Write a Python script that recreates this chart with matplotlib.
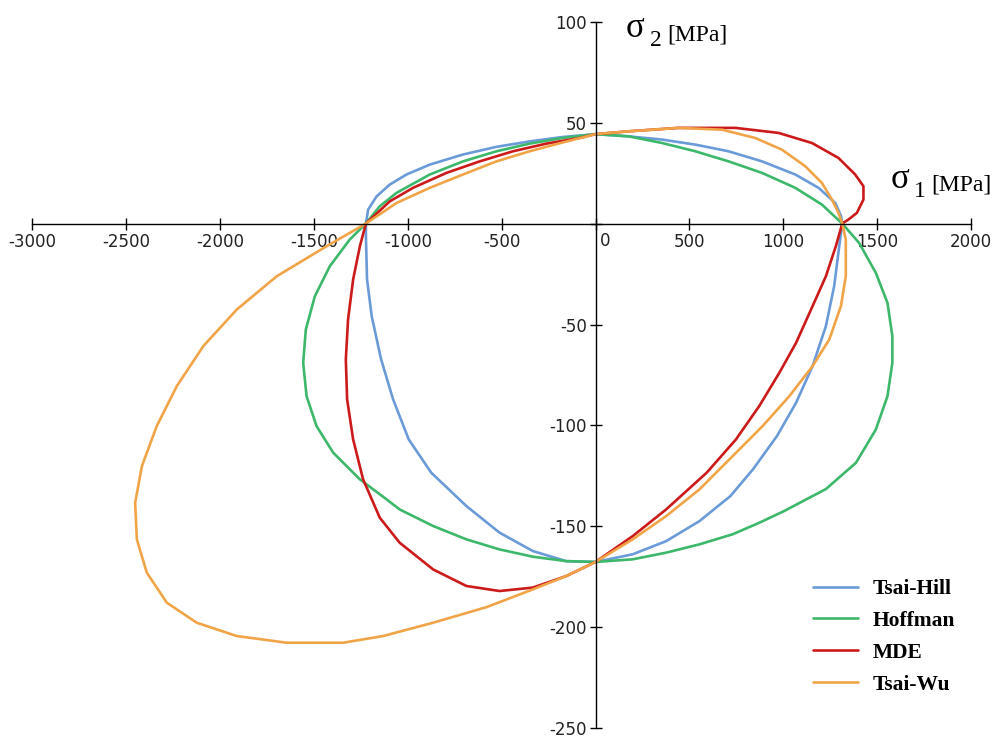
import matplotlib
matplotlib.use("Agg")
import matplotlib.pyplot as plt
from matplotlib.transforms import ScaledTranslation

plt.rcParams['axes.unicode_minus'] = False

# failure envelopes: (sigma1, sigma2) in MPa, going clockwise from the top
tsai_hill_s1 = [0, 177, 355, 532, 709, 887, 1064, 1188, 1277, 1308, 1314, 1298, 1271, 1227, 1156, 1068, 966,
                838, 718, 553, 376, 198, 0, -156, -334, -511, -688, -875, -995, -1078, -1142, -1192, -1217,
                -1223, -1223, -1211, -1166, -1096, -1007, -883, -706, -528, -351, -174, 0]
tsai_hill_s2 = [44.3, 43.2, 41.6, 39.1, 35.8, 30.8, 24.3, 17.7, 10.2, 3.6, 0, -11.2, -31.0, -50.8, -70.6,
                -88.8, -105.3, -121.8, -135.0, -147.4, -157.3, -163.8, -167.6, -167.2, -162.2, -153.1, -139.9,
                -123.4, -106.9, -87.1, -67.3, -45.9, -27.7, -6.3, 0, 6.9, 13.5, 19.3, 24.3, 29.2, 34.2, 38.0,
                40.7, 42.9, 44.3]

hoffman_s1 = [0, 177, 355, 532, 709, 887, 1064, 1206, 1314, 1404, 1493, 1555, 1581, 1581, 1555, 1493, 1387,
              1227, 1000, 872, 730, 553, 376, 198, 0, -156, -334, -511, -688, -865, -1043, -1113, -1255, -1397,
              -1486, -1539, -1557, -1543, -1495, -1415, -1309, -1223, -1149, -1060, -883, -706, -528, -351,
              -174, 0]
hoffman_s2 = [44.3, 43.2, 39.9, 35.8, 30.8, 25.1, 17.7, 9.4, 0, -9.6, -24.4, -39.3, -55.8, -69.0, -85.5,
              -102.0, -118.5, -131.5, -142.6, -148.2, -153.9, -158.9, -163.0, -166.3, -167.6, -167.2, -165.0,
              -161.4, -156.4, -149.8, -141.6, -136.6, -126.7, -113.5, -100.3, -85.5, -69.0, -52.5, -36.0,
              -21.1, -7.9, 0, 8.6, 15.2, 24.3, 30.8, 35.8, 39.6, 42.4, 44.3]

mde_s1 = [0, 177, 443, 745, 975, 1153, 1294, 1383, 1427, 1427, 1392, 1347, 1314, 1280, 1227, 1156, 1068, 979,
          872, 748, 592, 376, 198, 0, -156, -334, -511, -688, -865, -1043, -1149, -1238, -1291, -1323,
          -1330, -1318, -1291, -1255, -1223, -1096, -972, -794, -617, -440, -262, -85, 0]
mde_s2 = [44.3, 45.7, 47.4, 47.4, 44.9, 39.9, 32.5, 24.3, 18.5, 11.9, 5.3, 2.0, 0, -11.2, -26.1, -40.9, -59.1,
          -73.9, -90.4, -106.9, -123.4, -141.6, -154.8, -167.6, -174.6, -180.3, -182.0, -179.5,
          -171.3, -158.1, -145.7, -126.7, -106.9, -87.1, -67.3, -47.5, -27.7, -11.2, 0, 11.0, 17.7, 25.1,
          30.8, 35.8, 39.6, 42.4, 44.3]

tsai_wu_s1 = [0, 177, 443, 674, 851, 993, 1117, 1206, 1259, 1294, 1314, 1333, 1333, 1307, 1245, 1156, 1032,
              890, 713, 553, 376, 198, 0, -156, -334, -581, -865, -1131, -1344, -1645, -1911, -2124, -2283,
              -2390, -2443, -2452, -2416, -2337, -2230, -2089, -1911, -1698, -1432, -1223, -1060, -883, -706,
              -528, -351, -174, 0]
tsai_wu_s2 = [44.3, 45.7, 47.4, 46.5, 42.4, 36.6, 28.4, 20.1, 11.9, 5.3, 0, -7.9, -26.1, -40.9, -57.4, -70.6,
              -85.5, -100.3, -116.8, -131.7, -144.9, -156.4, -167.6, -174.6, -181.2, -190.0, -197.7, -204.3,
              -207.6, -207.6, -204.3, -197.7, -187.8, -172.9, -156.4, -138.3, -120.1, -100.3, -80.5, -60.7,
              -42.6, -26.1, -11.2, 0, 10.2, 17.7, 24.3, 30.8, 35.8, 40.2, 44.3]

labels = ['Tsai-Hill', 'Hoffman', 'MDE', 'Tsai-Wu']
colors = ['#6a9bd8', '#3db86a', '#cc1a1a', '#f0a447']

x_ticks = [-3000, -2500, -2000, -1500, -1000, -500, 0, 500, 1000, 1500, 2000]
y_ticks = [-250, -200, -150, -100, -50, 0, 50, 100]

fig = plt.figure(figsize=(9.99, 7.40), dpi=100)
ax = fig.add_axes([0.0323, 0.0158, 0.9397, 0.9549])

curves = [(tsai_hill_s1, tsai_hill_s2), (hoffman_s1, hoffman_s2), (mde_s1, mde_s2), (tsai_wu_s1, tsai_wu_s2)]
for (s1, s2), lab, col in zip(curves, labels, colors):
    ax.plot(s1, s2, color=col, lw=1.9, label=lab, solid_joinstyle='round', solid_capstyle='round')

ax.set_xlim(-3000, 2000)
ax.set_ylim(-250, 100)

# axes through the origin
for side in ['top', 'right']:
    ax.spines[side].set_visible(False)
ax.spines['left'].set_position(('data', 0))
ax.spines['bottom'].set_position(('data', 0))
for side in ['left', 'bottom']:
    ax.spines[side].set_linewidth(1.0)

ax.set_xticks(x_ticks)
ax.set_xticklabels(['' if v == 0 else str(v) for v in x_ticks])
ax.set_yticks(y_ticks)
ax.set_yticklabels(['' if v == 0 else str(v) for v in y_ticks])
ax.tick_params(axis='x', direction='inout', length=9, width=1, pad=2, labelsize=12, labelcolor='#222222')
ax.tick_params(axis='y', direction='inout', length=8, width=1, pad=2, labelsize=12, labelcolor='#222222')
ax.text(0, 0, '0', fontsize=12, ha='left', va='top', color='#222222',
        transform=ax.transData + ScaledTranslation(0.04, -0.085, fig.dpi_scale_trans))

serif = 'Liberation Serif'
# sigma_2 label
fig.text(626 / 999, 1 - 37 / 740, 'σ', fontsize=25, family=serif, ha='left', va='baseline')
fig.text(650 / 999, 1 - 46 / 740, '2', fontsize=17, family=serif, ha='left', va='baseline')
fig.text(667 / 999, 1 - 40 / 740, '[MPa]', fontsize=17, family=serif, ha='left', va='baseline')
# sigma_1 label
fig.text(891 / 999, 1 - 188 / 740, 'σ', fontsize=25, family=serif, ha='left', va='baseline')
fig.text(914 / 999, 1 - 197 / 740, '1', fontsize=17, family=serif, ha='left', va='baseline')
fig.text(931 / 999, 1 - 191 / 740, '[MPa]', fontsize=17, family=serif, ha='left', va='baseline')

ax.legend(loc='upper left', bbox_to_anchor=(813 / 999, 1 - 579 / 740), bbox_transform=fig.transFigure,
          frameon=False, borderpad=0, borderaxespad=0, handlelength=2.1, handletextpad=0.65,
          labelspacing=0.55, prop={'family': serif, 'weight': 'bold', 'size': 15.5})

fig.savefig('out.png', dpi=100)
